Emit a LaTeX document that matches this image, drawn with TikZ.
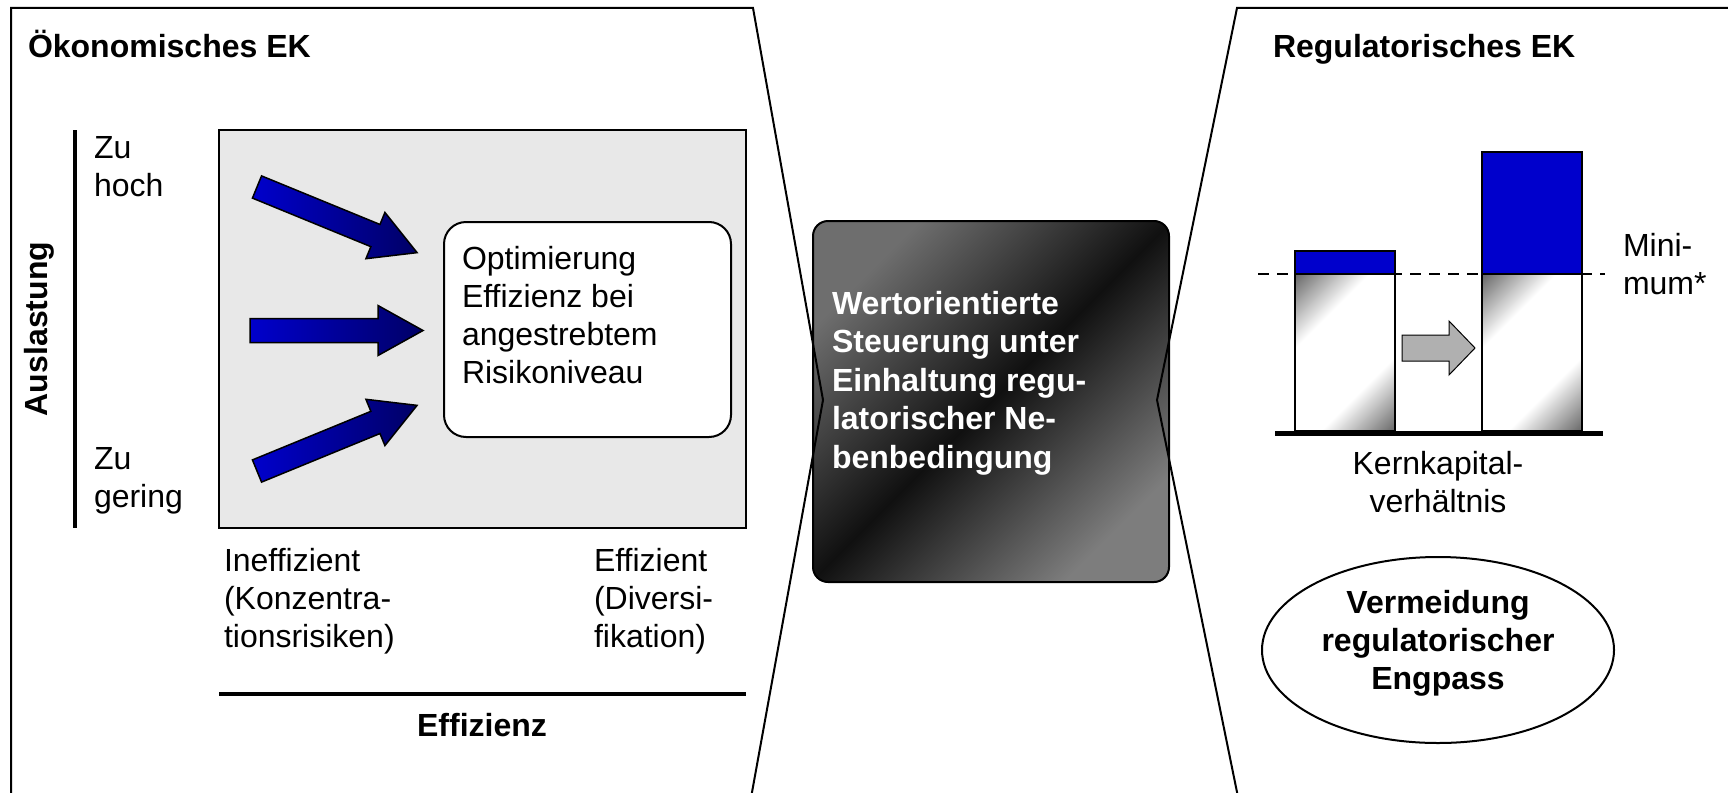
\documentclass[tikz,border=0pt]{standalone}
\usepackage{fontspec}
\setmainfont{Liberation Sans}
\usetikzlibrary{shapes.geometric}
\definecolor{barblue}{HTML}{0000CC}
\definecolor{navy}{HTML}{000066}
\definecolor{panelgray}{HTML}{E8E8E8}
\definecolor{midgray}{HTML}{6E6E6E}
\definecolor{bargray}{HTML}{6A6A6A}
\definecolor{darkband}{HTML}{101010}
\definecolor{arrowgray}{HTML}{B0B0B0}
\pgfdeclareverticalshading{barsh}{100bp}{color(0bp)=(bargray); color(15bp)=(bargray); color(35bp)=(white); color(65bp)=(white); color(85bp)=(bargray); color(100bp)=(bargray)}
\begin{document}
\begin{tikzpicture}[x=1pt,y=-1pt,
  every node/.style={font=\fontsize{32}{38}\selectfont, inner sep=0pt, outer sep=0pt},
  frame/.style={line width=2pt, line join=miter},
  lbl/.style={align=left, anchor=base west},
  bold/.style={font=\fontsize{32}{38}\selectfont\bfseries},
  blueshape/.style={draw=black, line width=1.5pt, left color=barblue, right color=navy},
  bargrad/.style={draw=black, line width=2pt, shading=barsh, shading angle=45},
  bluebar/.style={draw=black, line width=2pt, fill=barblue},
]
\useasboundingbox (0,0) rectangle (1728,792);

% ---------- left panel ----------
\node[bold, anchor=base west] (oektitle) at (28,57) {Ökonomisches EK};
\draw[line width=3.5pt] (75,130) -- (75,528);
\node[bold, rotate=90] (auslast) at (39,329) {Auslastung};
\node[lbl] (zuhoch) at (94,196) {Zu\\hoch};
\node[lbl] (zugering) at (94,507) {Zu\\gering};

\node[draw=black, line width=2pt, fill=panelgray, minimum width=527pt, minimum height=398pt] (field) at (482.5,329) {};

\node[draw=black, line width=2pt, fill=white, rounded corners=22pt, minimum width=287pt, minimum height=215pt] (optbox) at (587.5,329.5) {};
\node[lbl] (opttext) at (462,383) {Optimierung\\Effizienz bei\\angestrebtem\\Risikoniveau};

% blue arrows
\begin{scope}[shift={(257,187)}, rotate=-22.3]
  \shade[blueshape] (0,-12) -- (128,-12) -- (128,-25) -- (173,0) -- (128,25) -- (128,12) -- (0,12) -- cycle;
\end{scope}
\begin{scope}[shift={(250,330.5)}]
  \shade[blueshape] (0,-12) -- (128,-12) -- (128,-25) -- (173,0) -- (128,25) -- (128,12) -- (0,12) -- cycle;
\end{scope}
\begin{scope}[shift={(257,471)}, rotate=22.3]
  \shade[blueshape] (0,-12) -- (128,-12) -- (128,-25) -- (173,0) -- (128,25) -- (128,12) -- (0,12) -- cycle;
\end{scope}

\node[lbl] (ineff) at (224,647) {Ineffizient\\(Konzentra-\\tionsrisiken)};
\node[lbl] (eff) at (594,647) {Effizient\\(Diversi-\\fikation)};
\draw[line width=4pt] (219,694) -- (746,694);
\node[bold, anchor=base] (effizienz) at (482,736) {Effizienz};

% ---------- centre ----------
\node[draw=black, line width=2pt, rounded corners=15pt, top color=midgray, bottom color=midgray!90!white, middle color=darkband, shading angle=45, minimum width=356pt, minimum height=361pt] (steer) at (991,401.5) {};
\node[lbl, text=white, align=left, font=\fontsize{32}{38.5}\selectfont\bfseries] (steertext) at (832,468) {Wertorientierte\\Steuerung unter\\Einhaltung regu-\\latorischer Ne-\\benbedingung};

% panel outlines
\draw[frame] (11,800) -- (11,8) -- (753,8) -- (823,400) -- (750.6,800);
\draw[frame] (1740,8) -- (1237,8) -- (1157,400) -- (1238.6,800);

% ---------- right panel ----------
\node[bold, anchor=base west] (regtitle) at (1273,57) {Regulatorisches EK};

\draw[line width=1.5pt, dash pattern=on 11pt off 8pt] (1258,274) -- (1605,274);
\draw[bluebar] (1295,251) rectangle (1395,274);
\shade[bargrad] (1295,274) rectangle (1395,431);
\draw[bluebar] (1482,152) rectangle (1582,274);
\shade[bargrad] (1482,274) rectangle (1582,431);
\draw[line width=5pt] (1275,433) -- (1603,433);

\draw[line width=1pt, fill=arrowgray] (1402,335) -- (1449,335) -- (1449,321) -- (1475,348) -- (1449,375) -- (1449,361) -- (1402,361) -- cycle;

\node[lbl] (minimum) at (1623,294) {Mini-\\mum*};
\node[align=center, anchor=base] (kern) at (1438,512) {Kernkapital-\\verhältnis};

\node[ellipse, draw=black, line width=2pt, minimum width=352pt, minimum height=186pt] (engpass) at (1438,650) {};
\node[align=center, anchor=base, bold] (engtext) at (1438,689) {Vermeidung\\regulatorischer\\Engpass};
\end{tikzpicture}
\end{document}
